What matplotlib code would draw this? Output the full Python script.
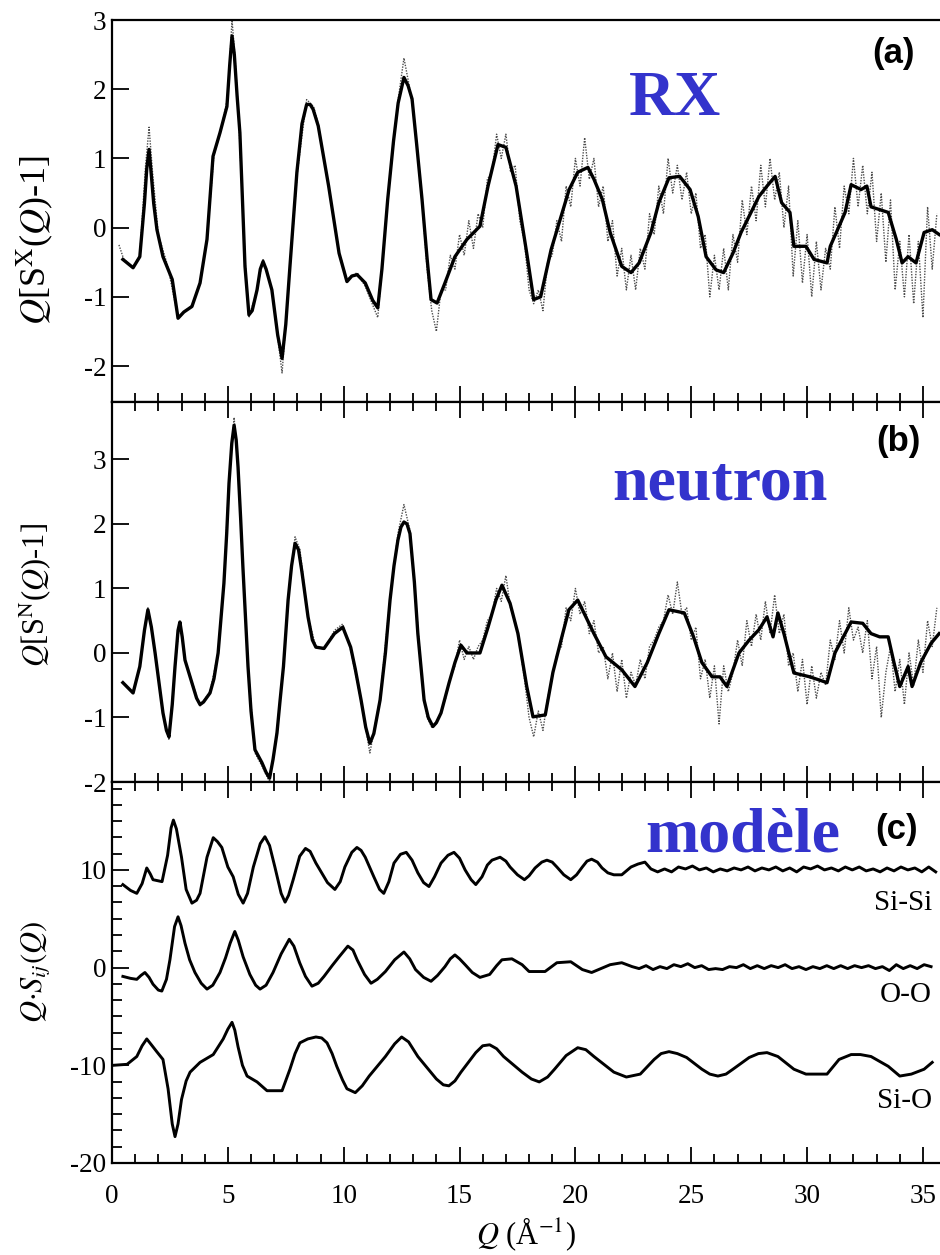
import numpy as np
import matplotlib
matplotlib.use('Agg')
import matplotlib.pyplot as plt
from matplotlib.ticker import MultipleLocator

plt.rcParams['font.family'] = ['Liberation Serif', 'DejaVu Serif']
plt.rcParams['mathtext.fontset'] = 'stix'
plt.rcParams['axes.unicode_minus'] = False

# ---- (a) X-ray Q[S(Q)-1]: model curve (solid) and measurement (dotted), (Q, value)
xray_fit = [(0.47, -0.46), (0.91, -0.58), (1.2, -0.42), (1.4, 0.35), (1.5, 0.85),
            (1.6, 1.13), (1.7, 0.75), (1.8, 0.35), (1.94, -0.03), (2.2, -0.42),
            (2.6, -0.75), (2.85, -1.31), (3.1, -1.22), (3.45, -1.14), (3.8, -0.8),
            (4.1, -0.17), (4.36, 1.03), (4.66, 1.37), (4.96, 1.75), (5.08, 2.35),
            (5.18, 2.77), (5.28, 2.5), (5.4, 1.9), (5.52, 1.37), (5.74, -0.56),
            (5.91, -1.26), (6.05, -1.2), (6.26, -0.9), (6.4, -0.6), (6.52, -0.49),
            (6.65, -0.6), (6.9, -0.9), (7.15, -1.55), (7.34, -1.89), (7.5, -1.4),
            (7.68, -0.56), (7.98, 0.8), (8.2, 1.5), (8.4, 1.78), (8.55, 1.78),
            (8.68, 1.71), (8.9, 1.47), (9.35, 0.6), (9.8, -0.37), (10.14, -0.78),
            (10.35, -0.7), (10.58, -0.68), (10.93, -0.8), (11.25, -1.05), (11.47, -1.16),
            (11.65, -0.6), (11.9, 0.41), (12.15, 1.25), (12.35, 1.8), (12.6, 2.17),
            (12.78, 2.05), (12.95, 1.86), (13.15, 1.2), (13.38, 0.41), (13.6, -0.45),
            (13.77, -1.04), (14.03, -1.09), (14.37, -0.8), (14.8, -0.42), (15.32, -0.17),
            (15.88, 0.02), (16.23, 0.6), (16.66, 1.2), (17.0, 1.16), (17.44, 0.6),
            (17.9, -0.37), (18.2, -1.04), (18.5, -1.0), (18.95, -0.32), (19.38, 0.16),
            (19.73, 0.55), (20.1, 0.8), (20.54, 0.87), (20.8, 0.7), (21.16, 0.41),
            (21.5, -0.07), (22.0, -0.56), (22.4, -0.65), (22.75, -0.51), (23.26, -0.07),
            (23.6, 0.36), (24.04, 0.72), (24.5, 0.74), (24.95, 0.55), (25.3, 0.16),
            (25.64, -0.42), (26.07, -0.61), (26.4, -0.65), (26.8, -0.37), (27.15, -0.07),
            (27.58, 0.22), (27.92, 0.45), (28.27, 0.6), (28.62, 0.74), (28.9, 0.36),
            (29.26, 0.22), (29.43, -0.27), (29.95, -0.27), (30.3, -0.46), (30.86, -0.51),
            (31.0, -0.27), (31.38, 0.02), (31.64, 0.22), (31.9, 0.62), (32.33, 0.55),
            (32.58, 0.6), (32.76, 0.3), (33.13, 0.26), (33.5, 0.22), (33.85, -0.17),
            (34.1, -0.51), (34.36, -0.42), (34.7, -0.51), (35.05, -0.07), (35.4, -0.03),
            (35.7, -0.1)]

xray_exp_low = [(0.3, -0.25), (0.5, -0.45), (0.9, -0.58), (1.2, -0.4), (1.45, 0.9),
                (1.6, 1.45), (1.75, 0.8), (2.0, -0.1), (2.4, -0.55), (2.85, -1.3),
                (3.45, -1.12), (3.8, -0.8), (4.1, -0.17), (4.4, 1.05), (4.7, 1.4),
                (5.0, 1.9), (5.18, 3.0), (5.3, 2.5), (5.45, 1.7), (5.75, -0.5),
                (5.91, -1.3), (6.26, -0.9), (6.52, -0.45), (6.9, -0.9), (7.34, -2.1),
                (7.68, -0.6), (8.0, 0.8), (8.4, 1.85), (8.7, 1.75), (8.9, 1.5),
                (9.35, 0.6), (9.8, -0.35), (10.14, -0.75), (10.58, -0.65), (10.93, -0.85),
                (11.47, -1.3), (11.9, 0.4), (12.35, 1.85), (12.6, 2.45), (12.8, 2.1)]
# measured points from 13.0 to 35.6 A^-1, every 0.2 A^-1
xray_exp_high = [1.7, 1.0, 0.3, -0.6, -1.2, -1.5, -0.9, -0.9, -0.4, -0.6,
                 -0.1, -0.4, 0.1, -0.3, 0.2, 0.0, 0.7, 0.8, 1.35, 1.0,
                 1.35, 0.8, 0.9, 0.1, -0.2, -0.9, -1.1, -0.9, -1.2, -0.5,
                 -0.4, 0.1, -0.2, 0.6, 0.3, 1.0, 0.6, 1.3, 0.7, 1.0,
                 0.3, 0.6, -0.2, 0.1, -0.7, -0.3, -0.9, -0.4, -0.9, -0.3,
                 -0.6, 0.2, -0.1, 0.6, 0.2, 1.0, 0.5, 0.9, 0.4, 0.8,
                 0.2, 0.5, -0.3, -0.1, -1.0, -0.4, -0.9, -0.3, -0.9, -0.1,
                 -0.5, 0.4, -0.1, 0.6, 0.1, 0.9, 0.3, 1.0, 0.4, 0.8,
                 0.0, 0.6, -0.7, 0.1, -0.8, -0.1, -1.0, -0.2, -0.9, -0.3,
                 -0.6, 0.3, -0.3, 0.6, 0.2, 1.0, 0.3, 0.9, 0.2, 0.8,
                 -0.2, 0.5, -0.5, 0.4, -0.9, -0.2, -1.0, -0.1, -1.1, -0.2,
                 -1.3, 0.3, -0.6, 0.2]

# ---- (b) neutron Q[S(Q)-1]
neut_fit = [(0.47, -0.46), (0.91, -0.62), (1.2, -0.21), (1.4, 0.35), (1.55, 0.67),
            (1.7, 0.4), (1.86, 0.0), (2.2, -0.93), (2.35, -1.2), (2.46, -1.3),
            (2.6, -0.8), (2.72, -0.21), (2.85, 0.35), (2.93, 0.48), (3.03, 0.25),
            (3.15, -0.11), (3.5, -0.52), (3.65, -0.7), (3.8, -0.8), (3.95, -0.76),
            (4.23, -0.62), (4.4, -0.4), (4.58, 0.0), (4.83, 1.08), (4.95, 1.85),
            (5.05, 2.63), (5.17, 3.25), (5.27, 3.53), (5.36, 3.3), (5.44, 2.88),
            (5.55, 2.1), (5.65, 1.33), (5.76, 0.55), (5.87, -0.21), (6.0, -0.9),
            (6.17, -1.5), (6.47, -1.7), (6.65, -1.85), (6.8, -1.94), (6.95, -1.65),
            (7.12, -1.24), (7.25, -0.75), (7.4, -0.21), (7.6, 0.82), (7.75, 1.35),
            (7.9, 1.7), (8.05, 1.6), (8.2, 1.25), (8.46, 0.56), (8.65, 0.2),
            (8.8, 0.09), (9.15, 0.07), (9.6, 0.3), (9.96, 0.4), (10.3, 0.09),
            (10.5, -0.25), (10.75, -0.73), (10.95, -1.15), (11.13, -1.4), (11.3, -1.25),
            (11.57, -0.73), (11.8, 0.0), (12.0, 0.82), (12.17, 1.35), (12.34, 1.75),
            (12.47, 1.95), (12.6, 2.03), (12.73, 2.0), (12.86, 1.85), (13.05, 1.1),
            (13.2, 0.3), (13.47, -0.73), (13.65, -1.0), (13.85, -1.14), (14.0, -1.08),
            (14.2, -0.93), (14.55, -0.46), (14.8, -0.15), (15.06, 0.12), (15.32, 0.0),
            (15.88, 0.0), (16.23, 0.4), (16.57, 0.82), (16.83, 1.05), (17.18, 0.77),
            (17.52, 0.3), (17.9, -0.52), (18.17, -0.99), (18.7, -0.96), (19.03, -0.3),
            (19.38, 0.2), (19.72, 0.67), (20.1, 0.82), (20.45, 0.56), (20.8, 0.3),
            (21.32, -0.06), (22.0, -0.26), (22.57, -0.52), (23.1, -0.15), (23.6, 0.3),
            (24.04, 0.67), (24.7, 0.62), (25.1, 0.25), (25.46, -0.15), (25.9, -0.37),
            (26.24, -0.37), (26.54, -0.52), (27.06, 0.0), (27.5, 0.2), (27.92, 0.36),
            (28.27, 0.56), (28.53, 0.25), (28.74, 0.62), (29.0, 0.3), (29.43, -0.31),
            (30.12, -0.37), (30.86, -0.46), (31.2, 0.0), (31.64, 0.3), (31.9, 0.48),
            (32.4, 0.46), (32.76, 0.3), (33.13, 0.25), (33.5, 0.25), (33.75, -0.15),
            (34.0, -0.52), (34.36, -0.21), (34.53, -0.52), (34.9, -0.15), (35.35, 0.15),
            (35.7, 0.3)]

neut_exp_low = [(0.47, -0.46), (0.91, -0.62), (1.2, -0.2), (1.55, 0.7), (1.86, 0.0),
                (2.2, -0.95), (2.46, -1.35), (2.72, -0.2), (2.93, 0.5), (3.15, -0.1),
                (3.5, -0.5), (3.8, -0.82), (4.23, -0.6), (4.58, 0.0), (4.83, 1.1),
                (5.05, 2.7), (5.27, 3.65), (5.44, 2.9), (5.65, 1.3), (5.87, -0.2),
                (6.17, -1.55), (6.47, -1.75), (6.8, -2.0), (7.12, -1.2), (7.4, -0.2),
                (7.6, 0.85), (7.9, 1.8), (8.11, 1.6), (8.46, 0.55), (8.8, 0.1),
                (9.15, 0.05), (9.6, 0.35), (9.96, 0.45), (10.3, 0.05), (10.75, -0.75),
                (11.13, -1.55), (11.57, -0.7), (12.0, 0.85), (12.34, 1.85), (12.6, 2.3),
                (12.86, 1.9)]
neut_exp_high = [1.3, 0.4, -0.5, -1.0, -1.15, -1.1, -0.9, -0.7, -0.4, -0.2,
                 0.2, -0.1, 0.1, -0.1, 0.1, 0.2, 0.5, 0.6, 1.0, 0.8,
                 1.2, 0.7, 0.5, 0.1, -0.4, -1.0, -1.3, -0.9, -1.2, -0.7,
                 -0.4, 0.0, 0.1, 0.7, 0.5, 1.0, 0.6, 0.8, 0.3, 0.5,
                 0.0, 0.1, -0.4, 0.0, -0.6, -0.1, -0.7, -0.3, -0.5, -0.1,
                 -0.4, 0.1, 0.2, 0.4, 0.5, 0.9, 0.6, 1.1, 0.6, 0.7,
                 0.2, 0.4, -0.4, -0.1, -0.7, -0.2, -1.1, -0.2, -0.6, -0.3,
                 0.2, -0.2, 0.5, 0.1, 0.6, 0.2, 0.8, 0.3, 0.9, 0.3,
                 0.6, -0.2, 0.0, -0.6, -0.1, -0.8, -0.2, -0.7, -0.3, -0.5,
                 0.2, -0.1, 0.5, 0.0, 0.7, 0.2, 0.4, 0.0, 0.5, -0.4,
                 0.1, -1.0, -0.3, 0.1, -0.6, -0.1, -0.8, 0.0, -0.5, 0.2,
                 -0.3, 0.5, 0.1, 0.7]

# ---- (c) partial structure factors of the model, shifted by +10 / 0 / -10
sisi = [(0.47, 8.5), (0.8, 7.9), (1.07, 7.6), (1.3, 8.6), (1.5, 10.2),
        (1.65, 9.6), (1.77, 9.0), (2.16, 8.8), (2.4, 11.5), (2.55, 14.3),
        (2.65, 15.1), (2.78, 14.2), (3.0, 11.3), (3.2, 8.0), (3.45, 6.6),
        (3.65, 6.9), (3.8, 7.6), (4.1, 11.3), (4.37, 13.3), (4.55, 12.9),
        (4.74, 12.3), (5.0, 10.3), (5.23, 9.3), (5.45, 7.5), (5.66, 6.6),
        (5.85, 7.6), (6.1, 10.3), (6.4, 12.7), (6.6, 13.4), (6.8, 12.5),
        (7.03, 10.3), (7.3, 7.6), (7.47, 6.7), (7.62, 7.4), (7.82, 9.0),
        (8.1, 11.4), (8.35, 12.2), (8.55, 11.9), (8.8, 10.7), (9.3, 8.7),
        (9.62, 8.0), (9.85, 8.8), (10.05, 10.3), (10.35, 11.8), (10.57, 12.3),
        (10.75, 12.0), (10.93, 11.3), (11.3, 9.3), (11.55, 8.0), (11.73, 7.6),
        (11.95, 8.8), (12.17, 10.7), (12.45, 11.6), (12.7, 11.8), (12.95, 11.0),
        (13.2, 9.7), (13.45, 8.7), (13.68, 8.3), (13.92, 9.3), (14.2, 10.7),
        (14.5, 11.5), (14.76, 11.8), (15.0, 11.2), (15.24, 10.0), (15.5, 9.0),
        (15.7, 8.5), (15.97, 9.3), (16.2, 10.5), (16.4, 11.0), (16.75, 11.3),
        (17.0, 10.9), (17.18, 10.3), (17.5, 9.5), (17.8, 9.0), (18.0, 9.4),
        (18.26, 10.2), (18.55, 10.8), (18.77, 11.0), (19.0, 10.8), (19.2, 10.3),
        (19.5, 9.5), (19.8, 9.0), (20.05, 9.5), (20.3, 10.3), (20.5, 10.9),
        (20.7, 11.1), (20.95, 10.8), (21.15, 10.2), (21.4, 9.7), (21.66, 9.5),
        (22.0, 9.5), (22.4, 10.3), (22.7, 10.6), (23.0, 10.8), (23.26, 10.1)]
# 23.55 .. 35.55 every 0.3
sisi_tail = [9.8, 10.1, 9.8, 10.3, 10.1, 10.4, 10.0, 10.2, 9.8, 10.1,
             9.9, 10.2, 10.0, 10.3, 9.9, 10.2, 10.0, 10.3, 9.9, 10.2,
             9.8, 10.3, 10.1, 10.4, 10.0, 10.2, 9.9, 10.3, 10.0, 10.3,
             9.9, 10.1, 9.8, 10.2, 9.9, 10.3, 10.0, 10.2, 9.8, 10.3,
             9.8]

oo = [(0.47, -0.9), (0.8, -1.1), (1.07, -1.2), (1.25, -0.8), (1.42, -0.5),
      (1.6, -1.0), (1.77, -1.7), (2.0, -2.3), (2.15, -2.4), (2.35, -1.2),
      (2.5, 0.8), (2.7, 4.2), (2.85, 5.2), (2.98, 4.3), (3.15, 2.5),
      (3.35, 0.8), (3.58, -0.5), (3.85, -1.6), (4.1, -2.2), (4.35, -1.8),
      (4.66, -0.5), (4.9, 1.0), (5.1, 2.5), (5.3, 3.7), (5.45, 2.8),
      (5.66, 1.1), (5.95, -0.7), (6.2, -1.8), (6.39, -2.2), (6.65, -1.8),
      (6.95, -0.5), (7.3, 1.4), (7.65, 2.9), (7.85, 2.2), (8.1, 0.5),
      (8.35, -0.9), (8.63, -1.9), (8.9, -1.6), (9.15, -0.9), (9.5, 0.2),
      (9.8, 1.1), (10.18, 2.2), (10.4, 1.8), (10.58, 0.8), (10.9, -0.7),
      (11.18, -1.6), (11.45, -1.2), (11.8, -0.4), (12.2, 0.8), (12.6, 1.6),
      (12.85, 0.9), (13.1, -0.2), (13.45, -1.0), (13.77, -1.4), (14.05, -0.8),
      (14.37, 0.1), (14.6, 0.9), (14.8, 1.3), (15.0, 0.9), (15.24, 0.3),
      (15.55, -0.5), (15.88, -1.0), (16.3, -0.7), (16.6, 0.2), (16.83, 0.8),
      (17.26, 0.9), (17.7, 0.3), (18.0, -0.4), (18.69, -0.4), (19.2, 0.5),
      (19.8, 0.6), (20.3, -0.2), (20.7, -0.5), (21.1, -0.1), (21.5, 0.3),
      (22.0, 0.5), (22.45, 0.1)]
# 22.75 .. 35.35 every 0.3
oo_tail = [-0.1, 0.2, -0.2, 0.1, -0.1, 0.3, 0.1, 0.4, 0.0, 0.2,
           -0.2, -0.1, -0.2, 0.1, 0.0, 0.3, -0.1, 0.2, -0.1, 0.2,
           0.0, 0.3, -0.1, 0.1, -0.2, 0.1, -0.1, 0.2, -0.1, 0.2,
           -0.1, 0.2, 0.0, 0.2, -0.1, 0.1, -0.3, 0.3, -0.1, 0.2,
           -0.1, 0.3, 0.1]

sio = [(0.05, -10.0), (0.65, -9.9), (1.07, -9.1), (1.3, -8.0), (1.5, -7.3),
       (1.7, -7.9), (1.93, -8.6), (2.2, -9.4), (2.42, -12.4), (2.6, -16.0),
       (2.72, -17.3), (2.85, -16.0), (3.0, -13.5), (3.2, -11.6), (3.37, -10.7),
       (3.8, -9.7), (4.37, -8.9), (4.8, -7.3), (5.0, -6.3), (5.18, -5.6),
       (5.3, -6.4), (5.44, -8.1), (5.63, -10.0), (5.83, -11.1), (6.26, -11.7),
       (6.69, -12.6), (7.34, -12.6), (7.68, -10.4), (7.9, -8.8), (8.11, -7.7),
       (8.45, -7.3), (8.8, -7.1), (9.05, -7.2), (9.28, -7.7), (9.5, -8.8),
       (9.7, -10.1), (9.95, -11.5), (10.14, -12.4), (10.5, -12.8), (10.8, -12.1),
       (11.1, -11.1), (11.8, -9.1), (12.2, -7.8), (12.5, -7.1), (12.8, -7.6),
       (13.2, -9.1), (14.0, -11.4), (14.3, -12.0), (14.54, -12.1), (14.8, -11.6),
       (15.06, -10.7), (15.7, -8.7), (16.0, -8.0), (16.3, -7.9), (16.6, -8.3),
       (16.9, -9.1), (17.7, -10.7), (18.1, -11.4), (18.44, -11.7), (18.8, -11.2),
       (19.1, -10.4), (19.6, -9.0), (20.1, -8.2), (20.45, -8.4), (20.8, -9.1),
       (21.66, -10.7), (22.2, -11.2), (22.8, -10.9), (23.4, -9.4), (23.7, -8.8),
       (24.04, -8.6), (24.4, -8.8), (24.8, -9.2), (25.46, -10.4), (25.8, -10.9),
       (26.15, -11.1), (26.5, -10.9), (26.8, -10.4), (27.5, -9.2), (27.9, -8.8),
       (28.27, -8.7), (28.74, -9.1), (29.43, -10.4), (29.95, -10.9), (30.86, -10.9),
       (31.38, -9.4), (31.9, -8.9), (32.3, -8.9), (32.76, -9.1), (33.5, -10.1),
       (34.0, -11.1), (34.5, -10.9), (35.05, -10.4), (35.4, -9.7)]

# sampling grids of the long-Q parts
q_high = np.linspace(13.0, 35.6, 114)
q_sisi_tail = np.linspace(23.55, 35.55, 41)
q_oo_tail = np.linspace(22.75, 35.35, 43)


def curve(pairs, q_tail=None, tail=None):
    q, y = (np.array(v) for v in zip(*pairs))
    if q_tail is not None:
        q = np.concatenate([q, q_tail])
        y = np.concatenate([y, tail])
    return q, y


# ---------------------------------------------------------------- layout
W, H = 940.0, 1255.0
fig = plt.figure(figsize=(W / 100, H / 100), dpi=100)


def box(top, bottom):
    return [112 / W, 1 - bottom / H, (W - 112) / W, (bottom - top) / H]


ax_a = fig.add_axes(box(20, 402))
ax_b = fig.add_axes(box(402, 782))
ax_c = fig.add_axes(box(782, 1163))
xmax = (W - 112) / 23.17

for ax in (ax_a, ax_b, ax_c):
    ax.set_xlim(0, xmax)
    ax.xaxis.set_major_locator(MultipleLocator(5))
    ax.xaxis.set_minor_locator(MultipleLocator(1))
    ax.tick_params(axis='x', which='major', direction='in', length=11.5, width=1.3,
                   top=True, bottom=True, labelbottom=False)
    ax.tick_params(axis='x', which='minor', direction='in', length=6.5, width=1.3,
                   top=True, bottom=True)
    ax.tick_params(axis='y', which='major', direction='in', length=12, width=1.3,
                   right=False, labelsize=19.5, pad=4)
    ax.tick_params(axis='y', which='minor', direction='in', length=7, width=1.3,
                   right=False)
    ax.spines['right'].set_visible(False)
    for s in ('left', 'top', 'bottom'):
        ax.spines[s].set_linewidth(1.6)

ax_a.tick_params(axis='x', which='both', top=False)
ax_c.tick_params(axis='x', which='major', labelbottom=True, labelsize=19.5, pad=15)

dots = dict(color='0.3', lw=1.0, ls=(0, (1, 1)))

# (a)
q, y = curve(xray_exp_low, q_high, xray_exp_high)
ax_a.plot(q, y, **dots)
ax_a.plot(*curve(xray_fit), color='black', lw=2.4)
ax_a.set_ylim(-2.52, 3)
ax_a.yaxis.set_major_locator(MultipleLocator(1))

# (b)
q, y = curve(neut_exp_low, q_high, neut_exp_high)
ax_b.plot(q, y, **dots)
ax_b.plot(*curve(neut_fit), color='black', lw=2.4)
ax_b.set_ylim(-2, 3.89)
ax_b.yaxis.set_major_locator(MultipleLocator(1))

# (c)
ax_c.plot(*curve(sisi, q_sisi_tail, sisi_tail), color='black', lw=2.1)
ax_c.plot(*curve(oo, q_oo_tail, oo_tail), color='black', lw=2.1)
ax_c.plot(*curve(sio), color='black', lw=2.1)
ax_c.set_ylim(-20, 19)
ax_c.yaxis.set_major_locator(MultipleLocator(10))
ax_c.yaxis.set_minor_locator(MultipleLocator(10 / 6))


def px(x, y):
    return x / W, 1 - y / H


# axis titles
fig.text(*px(35, 240), r'$Q$[S$^{\rm X}$($Q$)-1]', rotation=90, ha='center', va='center', fontsize=26)
fig.text(*px(35, 595), r'$Q$[S$^{\rm N}$($Q$)-1]', rotation=90, ha='center', va='center', fontsize=22)
fig.text(*px(35, 972), r'$Q{\cdot}S_{ij}(Q)$', rotation=90, ha='center', va='center', fontsize=22)
fig.text(*px(526, 1234), r'$Q$ (Å$^{-1}$)', ha='center', va='center', fontsize=22)

# panel tags
for tag, (x, y) in zip(['(a)', '(b)', '(c)'], [(893, 53), (898, 442), (897, 830)]):
    fig.text(*px(x, y), tag, ha='center', va='center', fontsize=25,
             fontweight='bold', family='Liberation Sans')

blue = '#3333cc'
fig.text(*px(675, 115), 'RX', ha='center', va='baseline', fontsize=46, fontweight='bold', color=blue)
fig.text(*px(720, 499), 'neutron', ha='center', va='baseline', fontsize=46, fontweight='bold', color=blue)
fig.text(*px(743, 851), 'modèle', ha='center', va='baseline', fontsize=46, fontweight='bold', color=blue)

for name, (x, y) in zip(['Si-Si', 'O-O', 'Si-O'], [(932, 910), (932, 1002), (932, 1108)]):
    fig.text(*px(x, y), name, ha='right', va='baseline', fontsize=21)

fig.savefig('out.png', dpi=100)
